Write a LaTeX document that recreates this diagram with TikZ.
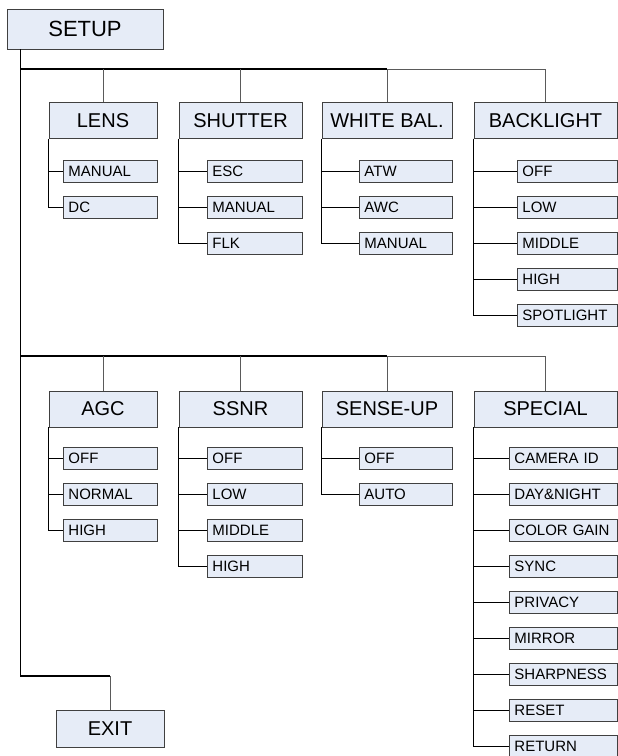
\documentclass[tikz,border=0pt]{standalone}
\usepackage{fontspec}
\setmainfont{Liberation Sans}
\usepackage{tikz}
\usetikzlibrary{positioning}
\definecolor{boxfill}{RGB}{230,236,247}
\definecolor{boxline}{RGB}{64,64,64}
\definecolor{stemgrey}{RGB}{90,90,90}

\begin{document}
\begin{tikzpicture}[x=1pt, y=-1pt,
  menu/.style={draw=boxline, fill=boxfill, line width=0.9pt, inner sep=0pt, minimum height=36pt, font=\fontsize{20}{24}\selectfont},
  item/.style={draw=boxline, fill=boxfill, line width=0.9pt, anchor=west, inner xsep=5pt, inner ysep=0pt, minimum height=21.5pt, text width=#1, align=left, font=\fontsize{15}{18}\selectfont},
  bus/.style={line width=1.5pt},
  stem/.style={draw=stemgrey, line width=0.9pt},
  tie/.style={line width=0.9pt}]
\useasboundingbox (0,0) rectangle (618,756);

% main menu and sub menus
\node[menu, minimum width=156pt, minimum height=40pt, font=\fontsize{22}{26}\selectfont] (setup) at (85,29) {SETUP};
\node[menu, minimum width=108pt] (lens) at (103,120.5) {LENS};
\node[menu, minimum width=123pt] (shutter) at (240.5,120.5) {SHUTTER};
\node[menu, minimum width=130pt] (whitebal) at (387,120.5) {WHITE BAL.};
\node[menu, minimum width=143pt] (backlight) at (545.5,120.5) {BACKLIGHT};
\node[menu, minimum width=108pt] (agc) at (103,409) {AGC};
\node[menu, minimum width=123pt] (ssnr) at (240.5,409) {SSNR};
\node[menu, minimum width=130pt] (senseup) at (387,409) {SENSE-UP};
\node[menu, minimum width=143pt] (special) at (545.5,409) {SPECIAL};
\node[menu, minimum width=108pt, minimum height=37pt] (exit) at (110,728.5) {EXIT};

% items
\node[item=84pt] (lensmanual) at (63,171.5) {MANUAL};
\node[item=84pt] (lensdc) at (63,207.5) {DC};

\node[item=85pt] (shutteresc) at (207,171.5) {ESC};
\node[item=85pt] (shuttermanual) at (207,207.5) {MANUAL};
\node[item=85pt] (shutterflk) at (207,243.5) {FLK};

\node[item=83pt] (wbatw) at (359,171.5) {ATW};
\node[item=83pt] (wbawc) at (359,207.5) {AWC};
\node[item=83pt] (wbmanual) at (359,243.5) {MANUAL};

\node[item=90pt] (bloff) at (517,171.5) {OFF};
\node[item=90pt] (bllow) at (517,207.5) {LOW};
\node[item=90pt] (blmiddle) at (517,243.5) {MIDDLE};
\node[item=90pt] (blhigh) at (517,279.5) {HIGH};
\node[item=90pt] (blspot) at (517,315.5) {SPOTLIGHT};

\node[item=84pt] (agcoff) at (63,458.5) {OFF};
\node[item=84pt] (agcnormal) at (63,494.5) {NORMAL};
\node[item=84pt] (agchigh) at (63,530.5) {HIGH};

\node[item=85pt] (ssnroff) at (207,458.5) {OFF};
\node[item=85pt] (ssnrlow) at (207,494.5) {LOW};
\node[item=85pt] (ssnrmiddle) at (207,530.5) {MIDDLE};
\node[item=85pt] (ssnrhigh) at (207,566.5) {HIGH};

\node[item=83pt] (suoff) at (359,458.5) {OFF};
\node[item=83pt] (suauto) at (359,494.5) {AUTO};

\node[item=98pt] (spcamid) at (509,458.5) {CAMERA ID};
\node[item=98pt] (spdaynight) at (509,494.5) {DAY\&NIGHT};
\node[item=98pt] (spcolor) at (509,530.5) {COLOR GAIN};
\node[item=98pt] (spsync) at (509,566.5) {SYNC};
\node[item=98pt] (spprivacy) at (509,602.5) {PRIVACY};
\node[item=98pt] (spmirror) at (509,638.5) {MIRROR};
\node[item=98pt] (spsharp) at (509,674.5) {SHARPNESS};
\node[item=98pt] (spreset) at (509,710.5) {RESET};
\node[item=98pt] (spreturn) at (509,746.5) {RETURN};

% trunk and buses
\coordinate (trunk) at (20.5,49);
\coordinate (bus1) at (20.5,69);
\coordinate (bus2) at (20.5,356);
\coordinate (bend) at (20.5,676);
\draw[bus] (trunk) -- (bend) -- (bend -| exit.north);
\draw[stem] (bend -| exit.north) -- (exit.north);
\draw[bus] (bus1) -- (bus1 -| whitebal.north);
\draw[stem] (bus1 -| whitebal.north) -- (bus1 -| backlight.north);
\draw[bus] (bus2) -- (bus2 -| senseup.north);
\draw[stem] (bus2 -| senseup.north) -- (bus2 -| special.north);

\draw[stem] (lens.north) -- (lens.north |- bus1);
\draw[stem] (shutter.north) -- (shutter.north |- bus1);
\draw[stem] (whitebal.north) -- (whitebal.north |- bus1);
\draw[stem] (backlight.north) -- (backlight.north |- bus1);
\draw[stem] (agc.north) -- (agc.north |- bus2);
\draw[stem] (ssnr.north) -- (ssnr.north |- bus2);
\draw[stem] (senseup.north) -- (senseup.north |- bus2);
\draw[stem] (special.north) -- (special.north |- bus2);

% ties to items
\draw[tie] (lens.south west) |- (lensmanual.west);
\draw[tie] (lens.south west) |- (lensdc.west);
\draw[tie] (shutter.south west) |- (shutteresc.west);
\draw[tie] (shutter.south west) |- (shuttermanual.west);
\draw[tie] (shutter.south west) |- (shutterflk.west);
\draw[tie] (whitebal.south west) |- (wbatw.west);
\draw[tie] (whitebal.south west) |- (wbawc.west);
\draw[tie] (whitebal.south west) |- (wbmanual.west);
\draw[tie] (backlight.south west) |- (bloff.west);
\draw[tie] (backlight.south west) |- (bllow.west);
\draw[tie] (backlight.south west) |- (blmiddle.west);
\draw[tie] (backlight.south west) |- (blhigh.west);
\draw[tie] (backlight.south west) |- (blspot.west);
\draw[tie] (agc.south west) |- (agcoff.west);
\draw[tie] (agc.south west) |- (agcnormal.west);
\draw[tie] (agc.south west) |- (agchigh.west);
\draw[tie] (ssnr.south west) |- (ssnroff.west);
\draw[tie] (ssnr.south west) |- (ssnrlow.west);
\draw[tie] (ssnr.south west) |- (ssnrmiddle.west);
\draw[tie] (ssnr.south west) |- (ssnrhigh.west);
\draw[tie] (senseup.south west) |- (suoff.west);
\draw[tie] (senseup.south west) |- (suauto.west);
\draw[tie] (special.south west) |- (spcamid.west);
\draw[tie] (special.south west) |- (spdaynight.west);
\draw[tie] (special.south west) |- (spcolor.west);
\draw[tie] (special.south west) |- (spsync.west);
\draw[tie] (special.south west) |- (spprivacy.west);
\draw[tie] (special.south west) |- (spmirror.west);
\draw[tie] (special.south west) |- (spsharp.west);
\draw[tie] (special.south west) |- (spreset.west);
\draw[tie] (special.south west) |- (spreturn.west);
\end{tikzpicture}
\end{document}
